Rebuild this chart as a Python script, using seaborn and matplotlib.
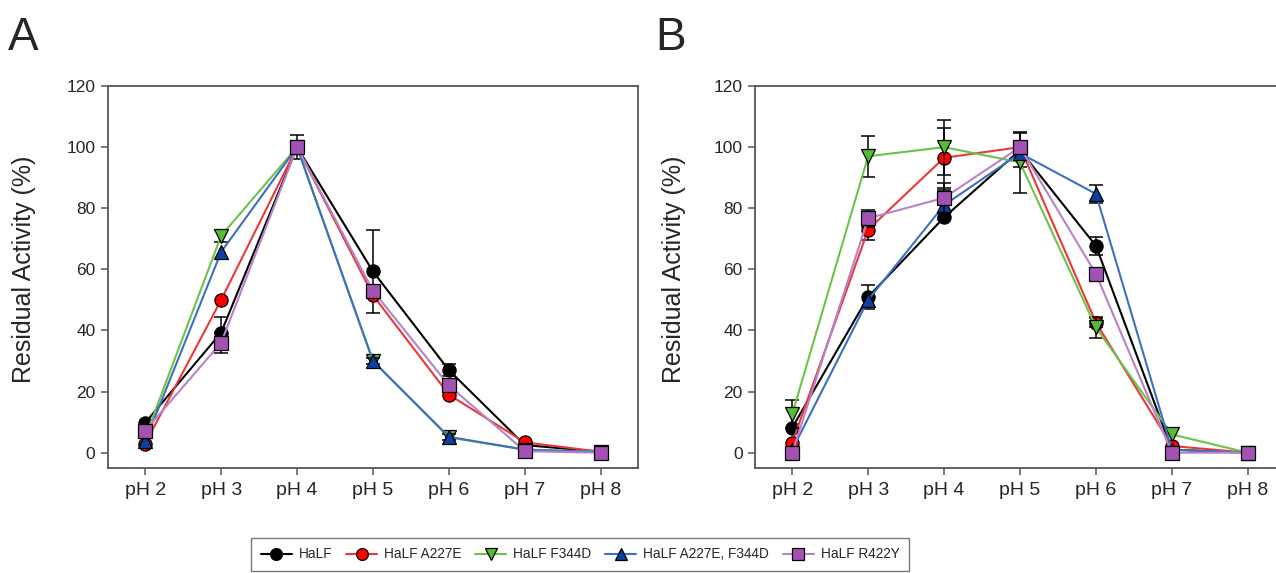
import matplotlib
matplotlib.use('Agg')
import matplotlib.pyplot as plt
from matplotlib.lines import Line2D
import numpy as np
import seaborn as sns

# x categories
ph_labels = ['pH 2', 'pH 3', 'pH 4', 'pH 5', 'pH 6', 'pH 7', 'pH 8']
series_names = ['HaLF', 'HaLF A227E', 'HaLF F344D', 'HaLF A227E, F344D', 'HaLF R422Y']

# panel A
a_wt = [9.8, 39.3, 100, 59.3, 27.0, 2.5, 0.3]
a_wt_err = [0, 5.0, 4.0, 13.5, 2.0, 0, 0]
a_a227e = [3.0, 50.0, 100, 51.5, 19.0, 3.4, 0.3]
a_a227e_err = [0, 0, 0, 0, 0, 0, 0]
a_f344d = [5.0, 71.0, 100, 30.0, 5.0, 1.0, 0.3]
a_f344d_err = [0, 2.0, 0, 0, 0, 0, 0]
a_double = [3.7, 65.7, 100, 30.0, 5.2, 1.0, 0.3]
a_double_err = [0, 0, 0, 1.0, 1.0, 0, 0]
a_r422y = [7.2, 36.0, 100, 53.0, 22.0, 0.5, 0.0]
a_r422y_err = [0, 3.5, 0, 0, 0, 0, 0]

# panel B
b_wt = [8.2, 51.0, 77.0, 99.0, 67.7, 1.0, 0.0]
b_wt_err = [0, 4.0, 0, 5.5, 3.0, 0, 0]
b_a227e = [3.3, 73.0, 96.5, 100, 42.6, 2.2, 0.0]
b_a227e_err = [0, 3.5, 9.8, 0, 1.5, 0, 0]
b_f344d = [12.6, 97.0, 100, 95.0, 41.0, 6.0, 0.0]
b_f344d_err = [4.5, 6.8, 9.0, 10.0, 3.5, 0, 0]
b_double = [1.0, 50.0, 81.0, 98.0, 84.7, 1.0, 0.0]
b_double_err = [0, 0, 5.0, 0, 3.0, 0, 0]
b_r422y = [0.0, 76.7, 83.4, 100, 58.5, 0.0, 0.0]
b_r422y_err = [0, 2.8, 5.0, 0, 0, 0, 0]

line_colors = ['#000000', '#e8393a', '#6cc24a', '#3f6fbf', '#b583c9']
face_colors = ['#000000', '#ff0000', '#55bb33', '#0d3f9e', '#a352b3']
markers = ['o', 'o', 'v', '^', 's']

sns.set_style('white')
plt.rcParams['font.family'] = ['Liberation Sans', 'DejaVu Sans']

W, H = 1276, 573
fig = plt.figure(figsize=(W / 100, H / 100), dpi=100)
ax_a = fig.add_axes([108 / W, 1 - 468 / H, 530 / W, 382 / H])
ax_b = fig.add_axes([755 / W, 1 - 468 / H, 530 / W, 382 / H])

panels = [
    (ax_a, [a_wt, a_a227e, a_f344d, a_double, a_r422y],
     [a_wt_err, a_a227e_err, a_f344d_err, a_double_err, a_r422y_err]),
    (ax_b, [b_wt, b_a227e, b_f344d, b_double, b_r422y],
     [b_wt_err, b_a227e_err, b_f344d_err, b_double_err, b_r422y_err]),
]

x = np.arange(len(ph_labels))
spine_col = '#555555'

for ax, vals_list, err_list in panels:
    for i, (vals, errs) in enumerate(zip(vals_list, err_list)):
        vals = np.array(vals)
        errs = np.array(errs)
        m = errs > 0
        if m.any():
            ax.errorbar(x[m], vals[m], yerr=errs[m], fmt='none', ecolor='black',
                        elinewidth=1.1, capsize=5, capthick=1.1, zorder=2 + i)
        sns.lineplot(x=x, y=vals, ax=ax, color=line_colors[i], lw=1.5,
                     marker=markers[i], markersize=9.5, markerfacecolor=face_colors[i],
                     markeredgecolor='black', markeredgewidth=0.9, zorder=3 + i)
    ax.set_xlim(-0.49, 6.49)
    ax.set_ylim(-5, 120)
    ax.set_xticks(x)
    ax.set_xticklabels(ph_labels, fontsize=14)
    ax.set_yticks(range(0, 121, 20))
    ax.tick_params(axis='y', labelsize=12.5, direction='out', length=5, color=spine_col, width=1.1, left=True, pad=4)
    ax.tick_params(axis='x', direction='out', length=5, color=spine_col, width=1.1, bottom=True, pad=5)
    for s in ax.spines.values():
        s.set_color(spine_col)
        s.set_linewidth(1.3)
    ax.set_xlabel('')
    ax.set_ylabel('Residual Activity (%)', fontsize=18)

ax_a.yaxis.set_label_coords(-0.135, 0.52)
ax_b.yaxis.set_label_coords(-0.13, 0.52)

fig.text(8 / W, 1 - 16 / H, 'A', fontsize=33, va='top', ha='left')
fig.text(655 / W, 1 - 16 / H, 'B', fontsize=33, va='top', ha='left')

handles = [Line2D([], [], color=line_colors[i], lw=1.5, marker=markers[i], markersize=8.5,
                  markerfacecolor=face_colors[i], markeredgecolor='black', markeredgewidth=0.9)
           for i in range(len(series_names))]
fig.legend(handles, series_names, loc='upper center', bbox_to_anchor=(580 / W, 1 - 531 / H),
           ncol=5, fontsize=9.8, frameon=True, fancybox=False, edgecolor=spine_col,
           handlelength=2.3, columnspacing=1.0, handletextpad=0.5, borderpad=0.7)

fig.savefig('out.png', dpi=100)
